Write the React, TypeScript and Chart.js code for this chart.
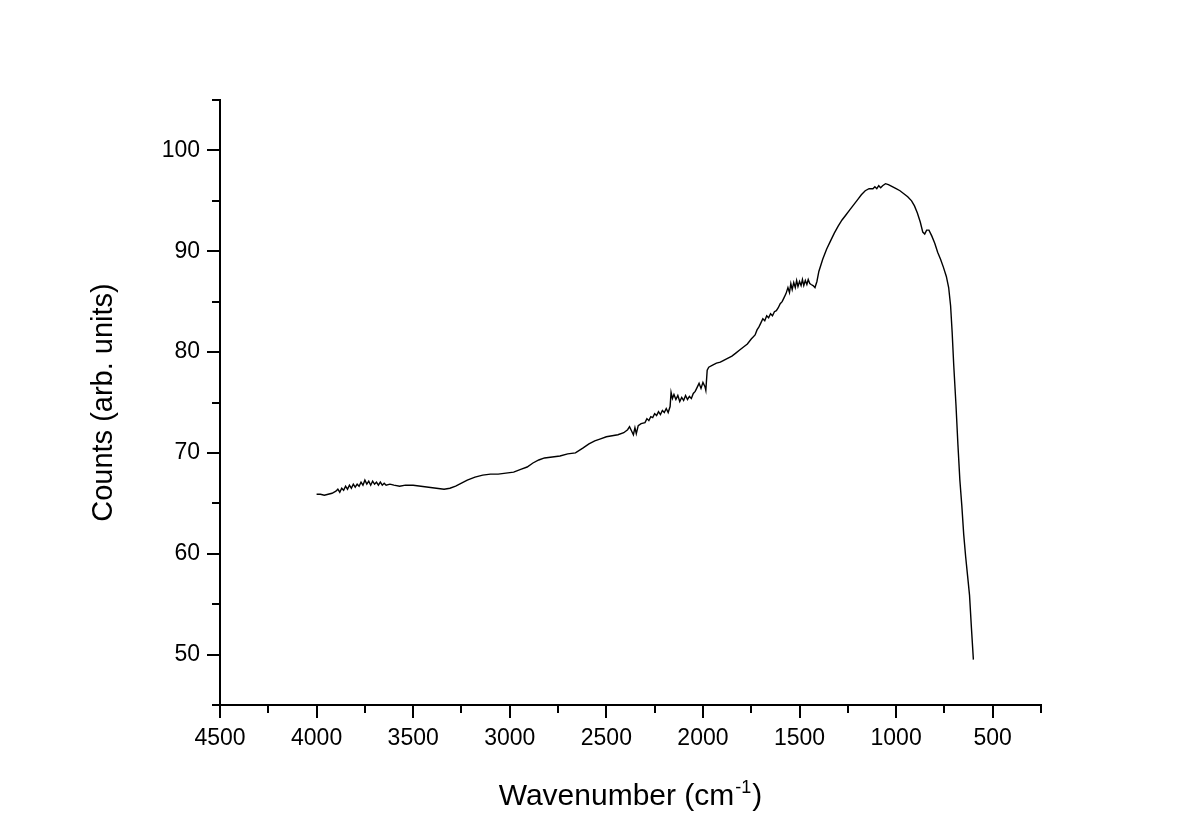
import React, { useEffect, useRef } from "react";
import { Chart, registerables } from "chart.js";

Chart.register(...registerables);

// Wavenumber (cm-1) and counts
const wavenumbers = [
  4000, 3980, 3960, 3940, 3920, 3900, 3890, 3880, 3870, 3860, 3850, 3840, 3830, 3820, 3810, 3800,
  3790, 3780, 3770, 3760, 3750, 3740, 3730, 3720, 3710, 3700, 3690, 3680, 3670, 3660, 3650, 3640,
  3620, 3600, 3570, 3540, 3500, 3460, 3420, 3380, 3340, 3310, 3280, 3250, 3220, 3180, 3140, 3100,
  3060, 3020, 2980, 2940, 2910, 2880, 2850, 2820, 2780, 2740, 2700, 2660, 2620, 2590, 2560, 2530,
  2500, 2470, 2440, 2410, 2390, 2380, 2370, 2360, 2352, 2345, 2335, 2320, 2300, 2290, 2280, 2270,
  2260, 2250, 2240, 2230, 2220, 2210, 2200, 2190, 2180, 2170, 2165, 2158, 2150, 2140, 2130, 2120,
  2110, 2100, 2090, 2080, 2070, 2060, 2050, 2040, 2030, 2020, 2010, 2000, 1990, 1985, 1978, 1970,
  1950, 1930, 1910, 1890, 1870, 1850, 1830, 1810, 1790, 1770, 1750, 1730, 1720, 1710, 1700, 1690,
  1680, 1670, 1660, 1650, 1640, 1630, 1620, 1610, 1600, 1590, 1580, 1570, 1560, 1552, 1545, 1538,
  1530, 1522, 1515, 1508, 1500, 1492, 1485, 1478, 1470, 1462, 1455, 1447, 1440, 1430, 1420, 1410,
  1400, 1380, 1360, 1340, 1320, 1300, 1280, 1260, 1240, 1220, 1200, 1180, 1160, 1140, 1120, 1110,
  1100, 1090, 1080, 1070, 1055, 1040, 1020, 1000, 980, 960, 940, 920, 905, 890, 875, 862,
  852, 842, 830, 815, 800, 785, 770, 755, 740, 728, 718, 710, 702, 690, 680, 670,
  660, 650, 640, 630, 620, 610, 600,
];

const counts = [
  65.9, 65.9, 65.8, 65.9, 66.0, 66.2, 66.4, 66.1, 66.5, 66.3, 66.7, 66.4, 66.8, 66.5, 66.9, 66.6,
  66.9, 66.7, 67.1, 66.8, 67.3, 66.9, 67.2, 66.8, 67.2, 66.9, 67.1, 66.8, 67.1, 66.8, 67.0, 66.8,
  66.9, 66.8, 66.7, 66.8, 66.8, 66.7, 66.6, 66.5, 66.4, 66.5, 66.7, 67.0, 67.3, 67.6, 67.8, 67.9,
  67.9, 68.0, 68.1, 68.4, 68.6, 69.0, 69.3, 69.5, 69.6, 69.7, 69.9, 70.0, 70.5, 70.9, 71.2, 71.4,
  71.6, 71.7, 71.8, 72.0, 72.3, 72.6, 72.2, 71.8, 72.5, 71.9, 72.7, 72.9, 73.0, 73.4, 73.2, 73.6,
  73.5, 73.9, 73.7, 74.1, 73.8, 74.2, 74.0, 74.4, 74.0, 74.6, 76.0, 75.4, 75.8, 75.3, 75.7, 75.1,
  75.5, 75.2, 75.7, 75.3, 75.6, 75.4, 75.9, 76.1, 76.5, 76.9, 76.4, 77.0, 76.6, 76.2, 78.2, 78.5,
  78.7, 78.9, 79.0, 79.2, 79.4, 79.6, 79.9, 80.2, 80.5, 80.8, 81.3, 81.7, 82.2, 82.5, 82.9, 83.3,
  83.1, 83.6, 83.4, 83.8, 83.6, 84.0, 84.1, 84.4, 84.8, 85.0, 85.4, 85.8, 86.4, 85.9, 86.8, 86.2,
  86.9, 86.4, 87.1, 86.5, 87.0, 86.6, 87.2, 86.6, 87.1, 86.7, 87.2, 86.8, 86.7, 86.6, 86.4, 87.0,
  88.0, 89.2, 90.2, 91.0, 91.8, 92.5, 93.1, 93.6, 94.1, 94.6, 95.1, 95.6, 96.0, 96.2, 96.2, 96.4,
  96.2, 96.5, 96.3, 96.5, 96.7, 96.6, 96.4, 96.2, 96.0, 95.7, 95.4, 95.0, 94.5, 93.8, 92.9, 91.9,
  91.7, 92.1, 92.1, 91.5, 90.8, 89.9, 89.2, 88.4, 87.5, 86.4, 84.6, 82.0, 78.8, 74.7, 70.8, 67.3,
  64.8, 61.9, 59.7, 57.8, 55.9, 52.6, 49.5,
];

const xMajorTicks = [4500, 4000, 3500, 3000, 2500, 2000, 1500, 1000, 500];
const xMinorTicks = [4250, 3750, 3250, 2750, 2250, 1750, 1250, 750, 250];
const yMajorTicks = [50, 60, 70, 80, 90, 100];
const yMinorTicks = [45, 55, 65, 75, 85, 95, 105];

const xTitleMain = "Wavenumber (cm";
const xTitleSup = "-1";
const xTitleEnd = ")";
const yTitle = "Counts (arb. units)";

const FONT = '"Liberation Sans", Arial, sans-serif';

const axisDecor = {
  id: "axisDecor",
  afterDraw(chart: any) {
    const { ctx, chartArea, scales } = chart;
    const xs = scales.x;
    const ys = scales.y;
    ctx.save();
    ctx.strokeStyle = "#000";
    ctx.lineWidth = 2;
    ctx.beginPath();
    for (const v of xMajorTicks) {
      const p = Math.round(xs.getPixelForValue(v));
      ctx.moveTo(p, chartArea.bottom);
      ctx.lineTo(p, chartArea.bottom + 13);
    }
    for (const v of xMinorTicks) {
      const p = Math.round(xs.getPixelForValue(v));
      ctx.moveTo(p, chartArea.bottom);
      ctx.lineTo(p, chartArea.bottom + 8);
    }
    for (const v of yMajorTicks) {
      const p = Math.round(ys.getPixelForValue(v));
      ctx.moveTo(chartArea.left, p);
      ctx.lineTo(chartArea.left - 13, p);
    }
    for (const v of yMinorTicks) {
      const p = Math.round(ys.getPixelForValue(v));
      ctx.moveTo(chartArea.left, p);
      ctx.lineTo(chartArea.left - 8, p);
    }
    // small overhang of the x axis to the left, as in the reference
    ctx.moveTo(chartArea.left - 5, chartArea.bottom);
    ctx.lineTo(chartArea.left, chartArea.bottom);
    ctx.stroke();

    // x title with superscript
    ctx.fillStyle = "#000";
    ctx.textBaseline = "alphabetic";
    ctx.textAlign = "left";
    const bigFont = `30px ${FONT}`;
    const supFont = `18px ${FONT}`;
    ctx.font = bigFont;
    const w1 = ctx.measureText(xTitleMain).width;
    const w3 = ctx.measureText(xTitleEnd).width;
    ctx.font = supFont;
    const w2 = ctx.measureText(xTitleSup).width;
    const cx = (chartArea.left + chartArea.right) / 2;
    let sx = cx - (w1 + w2 + w3 + 2) / 2;
    const baseY = 805;
    ctx.font = bigFont;
    ctx.fillText(xTitleMain, sx, baseY);
    sx += w1 + 1;
    ctx.font = supFont;
    ctx.fillText(xTitleSup, sx, baseY - 12);
    sx += w2 + 1;
    ctx.font = bigFont;
    ctx.fillText(xTitleEnd, sx, baseY);

    // y title
    ctx.translate(104, (chartArea.top + chartArea.bottom) / 2);
    ctx.rotate(-Math.PI / 2);
    ctx.textAlign = "center";
    ctx.textBaseline = "middle";
    ctx.font = `29px ${FONT}`;
    ctx.fillText(yTitle, 0, 0);
    ctx.restore();
  },
};

export default function App() {
  const canvasRef = useRef<HTMLCanvasElement | null>(null);

  useEffect(() => {
    document.body.style.margin = "0";
    document.body.style.background = "#fff";
    const canvas = canvasRef.current;
    if (!canvas) return;
    const points = wavenumbers.map((w, i) => ({ x: w, y: counts[i] }));
    const chart = new Chart(canvas, {
      type: "line",
      data: {
        datasets: [
          {
            data: points,
            borderColor: "#000",
            borderWidth: 1.4,
            pointRadius: 0,
            tension: 0,
            fill: false,
          },
        ],
      },
      options: {
        animation: false,
        responsive: false,
        maintainAspectRatio: false,
        layout: { padding: { left: 0, top: 100, right: 154, bottom: 0 } },
        plugins: {
          legend: { display: false },
          tooltip: { enabled: false },
        },
        scales: {
          x: {
            type: "linear",
            reverse: true,
            min: 250,
            max: 4500,
            afterFit: (s: any) => {
              s.height = 133;
            },
            afterBuildTicks: (s: any) => {
              s.ticks = xMajorTicks.map((v) => ({ value: v }));
            },
            grid: { display: false },
            border: { display: true, color: "#000", width: 2 },
            ticks: {
              color: "#000",
              padding: 12,
              maxRotation: 0,
              autoSkip: false,
              font: { family: FONT, size: 23 },
              callback: (v: any) => String(v),
            },
          },
          y: {
            type: "linear",
            min: 45,
            max: 105,
            afterFit: (s: any) => {
              s.width = 220;
            },
            afterBuildTicks: (s: any) => {
              s.ticks = yMajorTicks.map((v) => ({ value: v }));
            },
            grid: { display: false },
            border: { display: true, color: "#000", width: 2 },
            ticks: {
              color: "#000",
              padding: 12,
              autoSkip: false,
              font: { family: FONT, size: 23 },
              callback: (v: any) => String(v),
            },
          },
        },
      },
      plugins: [axisDecor],
    });
    return () => chart.destroy();
  }, []);

  return (
    <div style={{ width: 1195, height: 838 }}>
      <canvas ref={canvasRef} width={1195} height={838} style={{ display: "block" }} />
    </div>
  );
}
